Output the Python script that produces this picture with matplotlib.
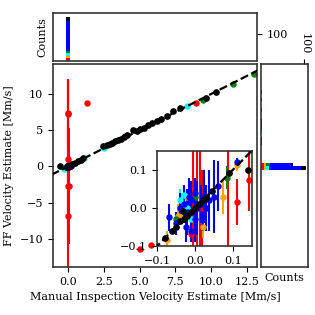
import numpy as np
import matplotlib
matplotlib.use("Agg")
import matplotlib.pyplot as plt

plt.rcParams['font.family'] = ['DejaVu Serif']
plt.rcParams['font.size'] = 8
plt.rcParams['axes.unicode_minus'] = True

# scatter data: (x, y, yerr) per colour
red_x = [-0.018, -0.012, -0.005, 0.005, 0.013, 0.087, 1.3, 3.95, 8.95, 5.0, 5.8, 0.11, 0.142, -0.011, 0.018]
red_y = [7.4, 7.3, 1.0, -2.7, -6.8, -2.7, 8.7, 4.2, 8.8, -11.4, -10.9, 0.015, 0.073, -0.068, 0.0]
red_e = [4.7, 4.6, 11.1, 8.0, 8.0, 8.0, 0.0, 0.0, 0.0, 0.0, 0.0, 0.06, 0.08, 0.02, 0.1]

orange_x = [-0.075, -0.045, -0.035, 0.02, 0.073, 0.11, -0.02]
orange_y = [-0.085, -0.02, 0.0, -0.05, 0.03, 0.113, 0.03]
orange_e = [0.025, 0.03, 0.04, 0.03, 0.045, 0.015, 0.02]

cyan_x = [-0.04, -0.02, -0.01, -0.3, 1.1, 2.5, 8.3, -0.03]
cyan_y = [0.02, 0.0, -0.03, -0.3, 1.2, 2.6, 8.3, 0.035]
cyan_e = [0.03, 0.04, 0.03, 0.0, 0.0, 0.0, 0.0, 0.02]

green_x = [0.085, 0.0, -0.05, 3.1, 9.4, 11.5, 13.0]
green_y = [0.08, 0.03, -0.03, 3.3, 9.2, 11.4, 12.8]
green_e = [0.03, 0.02, 0.02, 0.0, 0.0, 0.0, 0.0]

blue_x = [-0.068, -0.05, -0.04, -0.03, -0.02, -0.01, 0.0, 0.005, 0.015, 0.025,
          0.037, 0.05, 0.062, -0.025, -0.01, 0.112, 0.02, 0.0, 0.2, -0.015, 0.03]
blue_y = [-0.025, -0.04, 0.0, 0.01, -0.01, 0.02, -0.03, 0.0, 0.01, 0.03,
          0.02, 0.03, 0.058, -0.05, -0.06, 0.12, -0.02, 0.04, 0.1, 0.03, 0.0]
blue_e = [0.035, 0.03, 0.04, 0.05, 0.06, 0.05, 0.06, 0.07, 0.05, 0.07,
          0.08, 0.095, 0.065, 0.04, 0.03, 0.012, 0.04, 0.04, 0.0, 0.05, 0.06]

black_x = [-0.08, -0.06, -0.05, -0.04, -0.03, -0.02, -0.01, 0.0, 0.01, 0.02,
           0.03, 0.045, 0.09, -0.031, -0.55, 0.14, 0.3, 0.5, 0.7, 0.9, 1.05,
           2.45, 2.7, 2.9, 3.1, 3.3, 3.5, 3.7, 3.9, 4.1, 4.55, 4.8, 5.0, 5.3,
           5.6, 5.9, 6.2, 6.5, 6.9, 7.35, 7.8, 9.65, 10.35]
black_y = [-0.08, -0.06, -0.05, -0.035, -0.03, -0.02, -0.01, 0.0, 0.01, 0.02,
           0.025, 0.045, 0.092, -0.007, 0.0, 0.1, 0.35, 0.5, 0.7, 0.9, 1.1,
           2.76, 2.9, 3.05, 3.25, 3.45, 3.6, 3.8, 4.0, 4.28, 4.97, 4.9, 5.1, 5.35,
           5.65, 5.95, 6.25, 6.55, 7.0, 7.6, 8.0, 9.5, 10.3]

# stacked histogram of manual estimates (top), bins of width 0.2857
top_centers = [-0.43, 0.0, 0.29, 0.71, 2.43, 4.0, 4.86, 5.14, 5.43, 6.29]
top_red = [0, 13, 0, 0, 0, 0, 0, 0, 0, 0]
top_orange = [0, 8, 0, 0, 0, 0, 0, 0, 0, 0]
top_cyan = [1, 8, 0, 1, 1, 0, 0, 0, 0, 0]
top_green = [0, 9, 0, 0, 0, 0, 0, 0, 0, 0]
top_blue = [0, 107, 2, 0, 0, 0, 0, 0, 0, 0]
top_black = [0, 14, 0, 0, 0, 2, 1, 2, 1, 1]

# stacked histogram of FF estimates (right), bins of width 0.5
right_centers = [-0.25, 0.25, 3.25, 3.75, 4.75, 5.25, 5.75, 6.25, 7.75, 9.25, 10.25]
right_red = [6, 7, 0, 0, 0, 0, 0, 0, 1, 0, 1]
right_orange = [6, 5, 0, 0, 0, 0, 0, 0, 0, 0, 0]
right_cyan = [7, 0, 0, 0, 1, 0, 0, 0, 0, 0, 0]
right_green = [0, 9, 0, 0, 0, 1, 0, 0, 0, 0, 0]
right_blue = [74, 48, 0, 0, 0, 0, 0, 0, 0, 1, 0]
right_black = [11, 6, 1, 1, 2, 2, 3, 1, 0, 1, 0]

series = [
    (red_x, red_y, red_e, 'red'),
    (orange_x, orange_y, orange_e, 'orange'),
    (cyan_x, cyan_y, cyan_e, 'cyan'),
    (green_x, green_y, green_e, 'green'),
    (blue_x, blue_y, blue_e, 'blue'),
]

fig = plt.figure(figsize=(3.15, 3.15), dpi=100)
ax = fig.add_axes([0.168, 0.152, 0.648, 0.644])
ax_top = fig.add_axes([0.168, 0.805, 0.648, 0.154], sharex=ax)
ax_right = fig.add_axes([0.829, 0.152, 0.149, 0.644], sharey=ax)
ax_in = fig.add_axes([0.499, 0.219, 0.300, 0.302])


def draw_points(a):
    for xs, ys, es, c in series:
        a.errorbar(xs, ys, yerr=es, fmt='o', color=c, ms=3.6,
                   elinewidth=1.5, capsize=0, zorder=2)
    a.plot(black_x, black_y, 'o', color='black', ms=3.8, zorder=4)
    a.plot([-20, 20], [-20, 20], '--', color='black', lw=1.6, zorder=3)


draw_points(ax)
draw_points(ax_in)

ax.set_xlim(-1.05, 13.2)
ax.set_ylim(-13.9, 14.1)
ax.set_xticks([0, 2.5, 5, 7.5, 10, 12.5])
ax.set_yticks([-10, -5, 0, 5, 10])
ax.set_xlabel('Manual Inspection Velocity Estimate [Mm/s]')
ax.set_ylabel('FF Velocity Estimate [Mm/s]')

ax_in.set_xlim(-0.1, 0.15)
ax_in.set_ylim(-0.1, 0.15)
ax_in.set_xticks([-0.1, 0.0, 0.1])
ax_in.set_yticks([-0.1, 0.0, 0.1])

colors = ['red', 'orange', 'cyan', 'green', 'blue', 'black']
top_counts = [top_red, top_orange, top_cyan, top_green, top_blue, top_black]
right_counts = [right_red, right_orange, right_cyan, right_green, right_blue, right_black]

bottom = np.zeros(len(top_centers))
for cnt, c in zip(top_counts, colors):
    ax_top.bar(top_centers, cnt, width=0.2857, bottom=bottom, color=c, linewidth=0)
    bottom += np.array(cnt)
ax_top.set_ylim(0, 175)
ax_top.set_yticks([100])
ax_top.yaxis.tick_right()
ax_top.set_ylabel('Counts')
ax_top.tick_params(axis='x', labelbottom=False, length=0)

left = np.zeros(len(right_centers))
for cnt, c in zip(right_counts, colors):
    ax_right.barh(right_centers, cnt, height=0.5, left=left, color=c, linewidth=0)
    left += np.array(cnt)
ax_right.set_xlim(0, 109)
ax_right.set_xticks([100])
ax_right.xaxis.tick_top()
ax_right.set_xlabel('Counts')
ax_right.tick_params(axis='x', labelrotation=-90)
ax_right.tick_params(axis='y', labelleft=False, length=0)

for a in [ax, ax_top, ax_right, ax_in]:
    for s in a.spines.values():
        s.set_color('#333333')
        s.set_linewidth(1.2)

fig.savefig('out.png', dpi=100)
